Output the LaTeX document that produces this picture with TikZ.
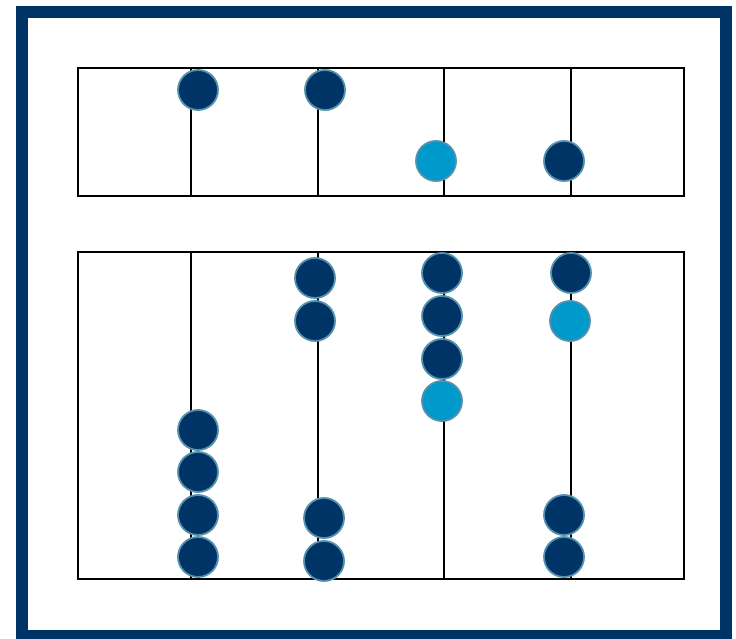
\documentclass[tikz,border=0pt]{standalone}
\usepackage{tikz}
\usetikzlibrary{positioning}
\definecolor{abacusnavy}{RGB}{0,51,102}
\definecolor{abacussky}{RGB}{0,153,204}
\definecolor{beadrim}{RGB}{84,145,172}

\begin{document}
\begin{tikzpicture}[x=1pt, y=-1pt,
    bead/.style={circle, draw=beadrim, line width=1.8pt, minimum size=40pt, inner sep=0pt, fill=abacusnavy},
    lit/.style={bead, fill=abacussky},
    frameline/.style={line width=2.4pt, black}]
    \useasboundingbox (0,0) rectangle (736,639);
    % outer frame
    \draw[abacusnavy, line width=12pt] (22,12) rectangle (726,636);
    % upper deck and lower deck
    \draw[frameline] (78,68) rectangle (684,196);
    \draw[frameline] (78,252) rectangle (684,579);
    % rods
    \foreach \x in {191,318,444,571} {
        \draw[frameline] (\x,68) -- (\x,196);
        \draw[frameline] (\x,252) -- (\x,579);
    }
    % upper beads
    \node[bead] (top1) at (198,90) {};
    \node[bead] (top2) at (325,90) {};
    \node[lit]  (top3) at (436,161) {};
    \node[bead] (top4) at (564,161) {};
    % lower beads, rod 1
    \node[bead] (low1a) at (198,430) {};
    \node[bead] (low1b) at (198,472) {};
    \node[bead] (low1c) at (198,515) {};
    \node[bead] (low1d) at (198,557) {};
    % rod 2
    \node[bead] (low2a) at (315,278) {};
    \node[bead] (low2b) at (315,321) {};
    \node[bead] (low2c) at (324,518) {};
    \node[bead] (low2d) at (324,561) {};
    % rod 3
    \node[bead] (low3a) at (442,273) {};
    \node[bead] (low3b) at (442,316) {};
    \node[bead] (low3c) at (442,359) {};
    \node[lit]  (low3d) at (442,401) {};
    % rod 4
    \node[bead] (low4a) at (571,273) {};
    \node[lit]  (low4b) at (570,321) {};
    \node[bead] (low4c) at (564,515) {};
    \node[bead] (low4d) at (564,557) {};
\end{tikzpicture}
\end{document}
